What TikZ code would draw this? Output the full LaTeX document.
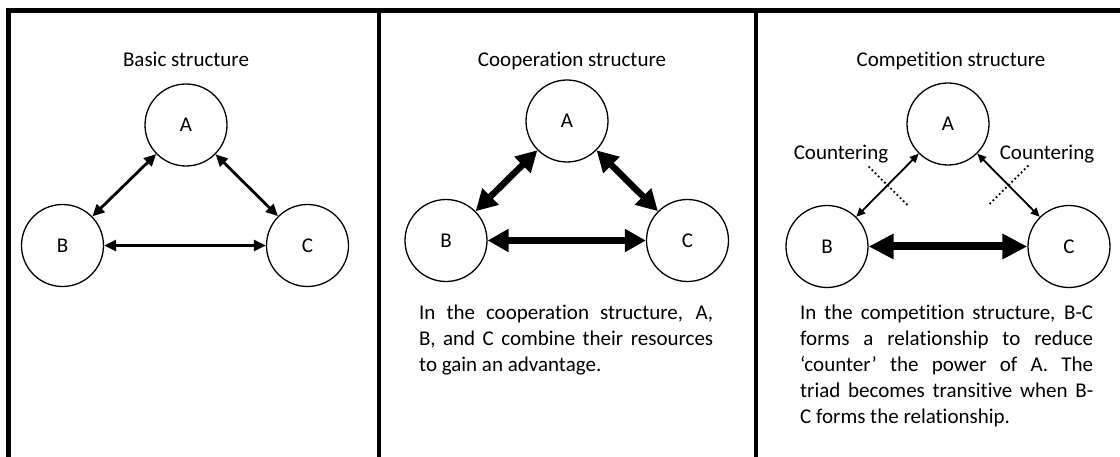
\documentclass[tikz,border=0pt]{standalone}
\usepackage{fontspec}
\setmainfont{Carlito}[Ligatures=NoCommon]
\usetikzlibrary{arrows.meta,calc}

\begin{document}
\begin{tikzpicture}[x=1pt, y=-1pt,
    every node/.style={font=\fontsize{21}{26}\selectfont},
    heading/.style={anchor=base},
    party/.style={circle, draw, line width=1.3pt, minimum size=82pt, inner sep=0pt},
    note/.style={anchor=north west, inner sep=0pt, text width=294pt, align=justify},
    link/.style={line width=2.8pt, {Triangle[length=12pt,width=11pt]}-{Triangle[length=12pt,width=11pt]}},
    strong/.style={line width=6.5pt, {Triangle[length=21pt,width=22pt]}-{Triangle[length=21pt,width=22pt]}},
    weak/.style={line width=1.8pt, {Triangle[length=9pt,width=8pt]}-{Triangle[length=9pt,width=8pt]}},
    bond/.style={line width=8pt, {Triangle[length=25pt,width=24pt]}-{Triangle[length=25pt,width=24pt]}},
    cutline/.style={line width=1.8pt, dash pattern=on 1.8pt off 2.6pt}]
    \useasboundingbox (0,0) rectangle (1120,457);

    % Frame and dividers
    \draw[line width=5pt] (8.5,457) -- (8.5,10.5) -- (1120,10.5);
    \draw[line width=4pt] (378.5,10.5) -- (378.5,457);
    \draw[line width=4pt] (755.5,10.5) -- (755.5,457);

    % Basic structure
    \begin{scope}
        \node[heading] (basic) at (186,66.7) {Basic structure};
        \node[party] (A1) at (186,125) {A};
        \node[party] (B1) at (62.5,245.5) {B};
        \node[party] (C1) at (307.5,245.5) {C};
        \draw[link] (A1) -- (B1);
        \draw[link] (A1) -- (C1);
        \draw[link] (B1) -- (C1);
    \end{scope}

    % Cooperation structure
    \begin{scope}
        \node[heading] (coop) at (572,66.7) {Cooperation structure};
        \node[party] (A2) at (567,121) {A};
        \node[party] (B2) at (446,240.5) {B};
        \node[party] (C2) at (687.5,240.5) {C};
        \draw[strong] (A2) -- (B2);
        \draw[strong] (A2) -- (C2);
        \draw[strong] (B2) -- (C2);
        \node[note] (coopnote) at (419,305) {In the cooperation structure, A,\linebreak
            B, and C combine their resources\linebreak to gain an advantage.};
    \end{scope}

    % Competition structure
    \begin{scope}
        \node[heading] (comp) at (951,66.7) {Competition structure};
        \node[party] (A3) at (948,124) {A};
        \node[party] (B3) at (827,246.5) {B};
        \node[party] (C3) at (1069,246.5) {C};
        \draw[weak] (A3) -- (B3);
        \draw[weak] (A3) -- (C3);
        \draw[bond] (B3) -- (C3);
        \draw[cutline] ($(A3)!0.5!(B3)!28pt!90:(B3)$) -- ($(A3)!0.5!(B3)!28pt!-90:(B3)$);
        \draw[cutline] ($(A3)!0.5!(C3)!28pt!90:(C3)$) -- ($(A3)!0.5!(C3)!28pt!-90:(C3)$);
        \node[heading] (cntl) at (841,159.3) {Countering};
        \node[heading] (cntr) at (1047,159.3) {Countering};
        \node[note, text width=293pt] (compnote) at (800,305) {In the competition structure, B-C\linebreak
            forms a relationship to reduce\linebreak ‘counter’ the power of A. The\linebreak
            triad becomes transitive when B-\linebreak C forms the relationship.};
    \end{scope}
\end{tikzpicture}
\end{document}
